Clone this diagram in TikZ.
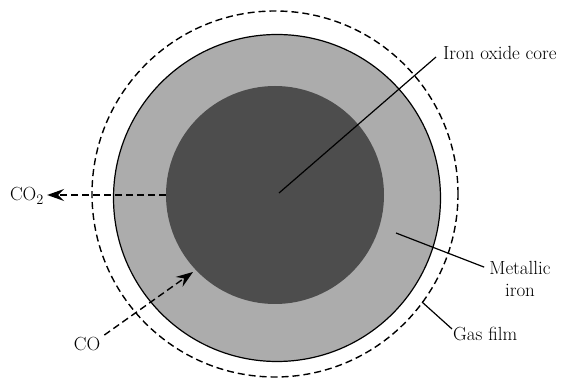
\documentclass[tikz,border=0pt]{standalone}
\usepackage{tikz}
\usetikzlibrary{arrows.meta}
\definecolor{iron3}{RGB}{172,172,172}
\definecolor{oxide3}{RGB}{77,77,77}

\begin{document}
\begin{tikzpicture}[x=1pt, y=-1pt,
    >={Stealth[length=17pt, width=12pt, inset=6pt]},
    lbl/.style={font=\fontsize{19}{22}\selectfont, inner sep=0pt},
    flow/.style={line width=1.4pt, dash pattern=on 7pt off 4pt},
    leader/.style={line width=1.2pt}]
\useasboundingbox (0,0) rectangle (579,379);

% Gas film around the particle
\draw[flow] (275,194) circle (183pt);

% Metallic iron shell
\filldraw[fill=iron3, line width=1.2pt] (277,198) circle (163.5pt);

% Iron oxide core
\fill[oxide3] (275,195) circle (109pt);

% Labels
\node[lbl, anchor=west] (core) at (443,53) {Iron oxide core};
\node[lbl, align=center] (metal) at (520,279) {Metallic\\iron};
\node[lbl, anchor=west] (gas) at (453,334) {Gas film};
\node[lbl] (co2) at (27,196) {CO$_2$};
\node[lbl] (co) at (87,344) {CO};

% Leader lines
\coordinate (corept) at (279,193);
\coordinate (ironpt) at (396,233);
\coordinate (filmpt) at (422,302);
\draw[leader] (corept) -- ([shift={(-7,4)}]core.west);
\draw[leader] (ironpt) -- ([shift={(-5,6)}]metal.north west);
\draw[leader] (filmpt) -- ([shift={(-1,2)}]gas.north west);

% Gas flow: CO2 out, CO in
\coordinate (co2start) at (166,195);
\coordinate (coend) at (193,272);
\draw[flow, ->] (co2start) -- ([xshift=3pt]co2.east |- co2start);
\draw[flow, ->] ([shift={(4,-2)}]co.north east) -- (coend);

\end{tikzpicture}
\end{document}
